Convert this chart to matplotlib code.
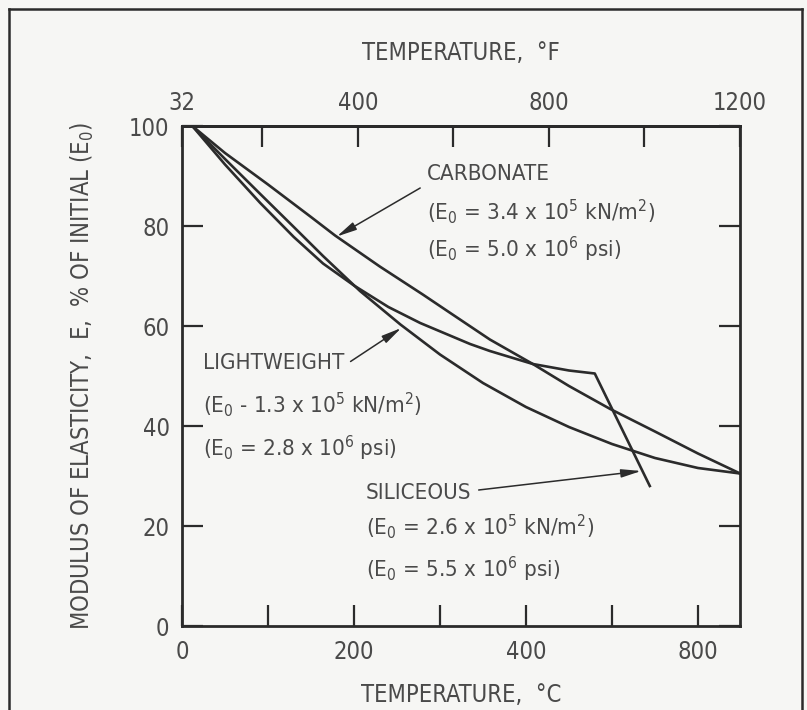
import matplotlib.pyplot as plt
from matplotlib.lines import Line2D

# curves: temperature in deg C, modulus in % of E0
carbonate_t = [12, 50, 100, 150, 178, 230, 280, 312, 358, 408, 450, 498, 550, 600, 649]
carbonate_e = [100, 94.6, 88.3, 81.8, 78.1, 71.9, 66.3, 62.6, 57.3, 52.4, 48.0, 43.4, 38.9, 34.5, 30.5]

lightweight_t = [12, 50, 91, 130, 164, 207, 254, 300, 350, 400, 450, 500, 550, 600, 649]
lightweight_e = [100, 93.4, 86.4, 79.8, 74.0, 67.0, 60.3, 54.3, 48.6, 43.8, 39.8, 36.4, 33.6, 31.6, 30.5]

siliceous_t = [12, 50, 91, 130, 164, 200, 240, 277, 335, 358, 408, 450, 480, 544]
siliceous_e = [100, 92.3, 84.6, 77.8, 72.5, 68.1, 63.8, 60.6, 56.4, 55.0, 52.4, 51.1, 50.5, 28.0]

c_ticks = [0, 100, 200, 300, 400, 500, 600]
c_labels = ['0', '', '200', '', '400', '', '800']
f_ticks = [32, 200, 400, 600, 800, 1000, 1200]
f_labels = ['32', '', '400', '', '800', '', '1200']
e_ticks = [0, 20, 40, 60, 80, 100]
e_labels = ['0', '20', '40', '60', '80', '100']

BG = '#f6f6f4'
INK = '#2b2b2b'
TXT = '#4a4a4a'

plt.rcParams['font.family'] = ['DejaVu Sans']
plt.rcParams['font.stretch'] = 'condensed'
plt.rcParams['mathtext.default'] = 'regular'

W, H = 807, 710
fig = plt.figure(figsize=(W / 100, H / 100), dpi=100, facecolor=BG)
ax = fig.add_axes([182 / W, 1 - 626 / H, 558 / W, 500 / H])
ax.set_facecolor(BG)

def c2f(c):
    return c * 9.0 / 5.0 + 32

def f2c(f):
    return (f - 32) * 5.0 / 9.0

ax.plot(carbonate_t, carbonate_e, color=INK, lw=1.9)
ax.plot(lightweight_t, lightweight_e, color=INK, lw=1.9)
ax.plot(siliceous_t, siliceous_e, color=INK, lw=1.9)

ax.set_xlim(0, f2c(1200))
ax.set_ylim(0, 100)
for s in ax.spines.values():
    s.set_linewidth(2.0)
    s.set_color(INK)

ax.set_xticks(c_ticks)
ax.set_xticklabels(c_labels)
ax.set_yticks(e_ticks)
ax.set_yticklabels(e_labels)
ax.tick_params(axis='both', direction='in', length=15, width=1.6, color=INK,
               labelsize=17, labelcolor=TXT)
ax.tick_params(axis='x', pad=10)
ax.tick_params(axis='y', pad=9, right=True)

top = ax.secondary_xaxis('top', functions=(c2f, f2c))
top.set_xticks(f_ticks)
top.set_xticklabels(f_labels)
top.tick_params(direction='in', length=15, width=1.6, color=INK,
                labelsize=17, labelcolor=TXT, pad=8)
top.spines['top'].set_linewidth(2.0)
top.set_xlabel('TEMPERATURE,  \u00b0F', fontsize=17, color=TXT, labelpad=22)

ax.set_xlabel('TEMPERATURE,  \u00b0C', fontsize=17, color=TXT, labelpad=14)
ax.set_ylabel('MODULUS OF ELASTICITY,  E,  % OF INITIAL (E$_0$)', fontsize=17,
              color=TXT, labelpad=24)

fs = 16
ax.text(285, 90.4, 'CARBONATE', fontsize=fs, color=TXT, va='center')
ax.text(285, 82.8, '(E$_0$ = 3.4 x 10$^5$ kN/m$^2$)', fontsize=fs, color=TXT, va='center')
ax.text(285, 75.4, '(E$_0$ = 5.0 x 10$^6$ psi)', fontsize=fs, color=TXT, va='center')

ax.text(24, 52.6, 'LIGHTWEIGHT', fontsize=fs, color=TXT, va='center')
ax.text(24, 44.2, '(E$_0$ - 1.3 x 10$^5$ kN/m$^2$)', fontsize=fs, color=TXT, va='center')
ax.text(24, 35.5, '(E$_0$ = 2.8 x 10$^6$ psi)', fontsize=fs, color=TXT, va='center')

ax.text(214, 26.7, 'SILICEOUS', fontsize=fs, color=TXT, va='center')
ax.text(214, 19.8, '(E$_0$ = 2.6 x 10$^5$ kN/m$^2$)', fontsize=fs, color=TXT, va='center')
ax.text(214, 11.4, '(E$_0$ = 5.5 x 10$^6$ psi)', fontsize=fs, color=TXT, va='center')

arrow = dict(arrowstyle='-|>,head_length=1.2,head_width=0.25', color=INK, lw=1.1,
             shrinkA=0, shrinkB=0)
ax.annotate('', xy=(180, 77.9), xytext=(277, 87.6), arrowprops=arrow)
ax.annotate('', xy=(255, 59.6), xytext=(196, 52.9), arrowprops=arrow)
ax.annotate('', xy=(534, 31.0), xytext=(345, 27.2), arrowprops=arrow)

# scanned page border
for xs, ys in [([9, 9], [0, 701]), ([9, 802], [701, 701]), ([802, 802], [701, 0])]:
    fig.add_artist(Line2D([x / W for x in xs], [y / H for y in ys], color=INK, lw=1.8))

fig.savefig('out.png', dpi=100, facecolor=BG)
